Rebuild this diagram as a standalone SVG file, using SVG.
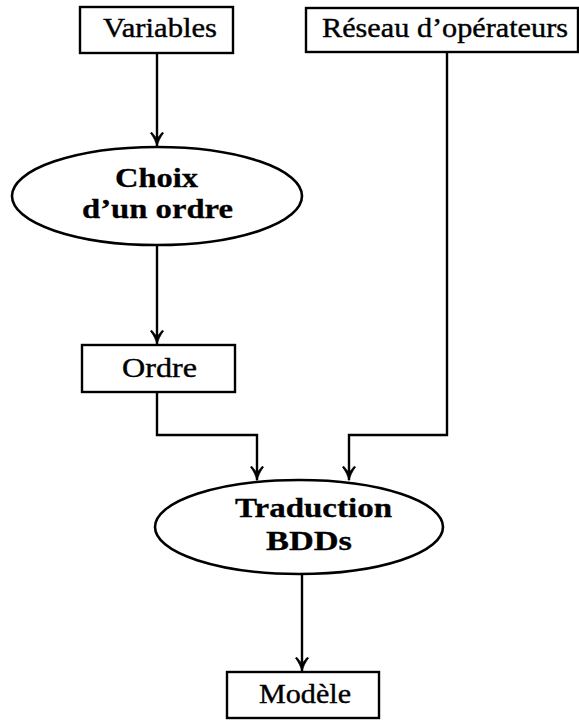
<svg xmlns="http://www.w3.org/2000/svg" width="579" height="721" viewBox="0 0 579 721">
<style>
.box{fill:#fff;stroke:#000;stroke-width:2.4}
.ell{fill:#fff;stroke:#000;stroke-width:2.6}
.t{font-family:"Liberation Serif","Times New Roman",serif;font-size:28px;fill:#000;stroke:#000;stroke-width:0.4}
.b{font-family:"Liberation Serif","Times New Roman",serif;font-size:28px;font-weight:bold;fill:#000;stroke:#000;stroke-width:0.3}
.c{fill:none;stroke:#000;stroke-width:2.4;marker-end:url(#ah)}
</style>
<defs>
<marker id="ah" markerUnits="userSpaceOnUse" markerWidth="16" markerHeight="16" viewBox="-15 -8 16 16" refX="0" refY="0" orient="auto">
<path d="M0.5 0 C-4 -1 -9 -3.5 -13 -6.5 L-13.5 -5 C-11 -3 -9 -1.5 -7.5 0 C-9 1.5 -11 3 -13.5 5 L-13 6.5 C-9 3.5 -4 1 0.5 0 Z" fill="#000" stroke="#000" stroke-width="0.8" stroke-linejoin="round"/>
</marker>
</defs>
<g id="connectors">
<path class="c" d="M157 53 V146"/>
<path class="c" d="M157 245 V344"/>
<path class="c" d="M157 392 V435 H257 V480"/>
<path class="c" d="M447 52 V435 H349 V480"/>
<path class="c" d="M302 573 V671"/>
</g>
<g id="variables">
<rect class="box" x="80" y="7" width="153" height="46"/>
<text class="t" x="103" y="37" textLength="114" lengthAdjust="spacingAndGlyphs">Variables</text>
</g>
<g id="reseau">
<rect class="box" x="306" y="8" width="272" height="44"/>
<text class="t" x="322" y="37" textLength="246" lengthAdjust="spacingAndGlyphs">Réseau d’opérateurs</text>
</g>
<g id="choix">
<ellipse class="ell" cx="157" cy="196" rx="145" ry="49"/>
<text class="b" x="115" y="187" textLength="83" lengthAdjust="spacingAndGlyphs">Choix</text>
<text class="b" x="82" y="218" textLength="151" lengthAdjust="spacingAndGlyphs">d’un ordre</text>
</g>
<g id="ordre">
<rect class="box" x="82" y="345" width="153" height="47"/>
<text class="t" x="122" y="377" textLength="75" lengthAdjust="spacingAndGlyphs">Ordre</text>
</g>
<g id="traduction">
<ellipse class="ell" cx="299" cy="527" rx="144" ry="47"/>
<text class="b" x="235" y="517" textLength="157" lengthAdjust="spacingAndGlyphs">Traduction</text>
<text class="b" x="266" y="550" textLength="86" lengthAdjust="spacingAndGlyphs">BDDs</text>
</g>
<g id="modele">
<rect class="box" x="227" y="672" width="152" height="46"/>
<text class="t" x="259" y="703" textLength="92" lengthAdjust="spacingAndGlyphs">Modèle</text>
</g>
</svg>
